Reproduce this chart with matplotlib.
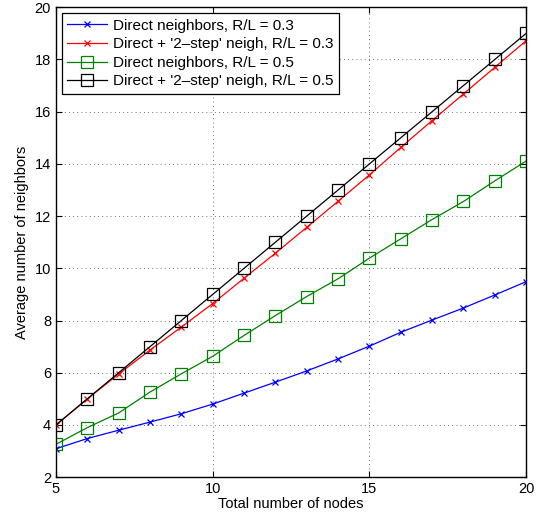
import numpy as np
import matplotlib
matplotlib.use("Agg")
import matplotlib.pyplot as plt

plt.rcParams['font.family'] = ['Liberation Sans', 'DejaVu Sans']

nodes = np.arange(5, 21)
direct_03 = [3.09, 3.48, 3.80, 4.11, 4.43, 4.80, 5.22, 5.64, 6.07, 6.53, 7.02, 7.55, 8.02, 8.48, 8.98, 9.49]
twostep_03 = [4.0, 5.0, 5.95, 6.87, 7.75, 8.65, 9.62, 10.58, 11.57, 12.57, 13.58, 14.63, 15.66, 16.68, 17.70, 18.72]
direct_05 = [3.26, 3.90, 4.46, 5.26, 5.96, 6.63, 7.43, 8.19, 8.92, 9.60, 10.39, 11.13, 11.87, 12.56, 13.35, 14.11]
twostep_05 = [4, 5, 6, 7, 8, 9, 10, 11, 12, 13, 14, 15, 16, 17, 18, 19]

labels = ["Direct neighbors, R/L = 0.3",
          "Direct + '2\u2013step' neigh, R/L = 0.3",
          "Direct neighbors, R/L = 0.5",
          "Direct + '2\u2013step' neigh, R/L = 0.5"]

fig = plt.figure(figsize=(5.38, 5.17), dpi=100)
ax = fig.add_axes([0.104, 0.077, 0.874, 0.909])

ax.plot(nodes, direct_03, color='#0000ff', marker='x', ms=5, mew=0.9, lw=0.9, label=labels[0])
ax.plot(nodes, twostep_03, color='#ff0000', marker='x', ms=5, mew=0.9, lw=0.9, label=labels[1])
ax.plot(nodes, direct_05, color='#008000', marker='s', ms=8, mfc='none', mew=0.9, lw=0.9, label=labels[2])
ax.plot(nodes, twostep_05, color='#000000', marker='s', ms=8, mfc='none', mew=0.9, lw=0.9, label=labels[3])

ax.set_xlim(5, 20)
ax.set_ylim(2, 20)
ax.set_xticks([5, 10, 15, 20])
ax.set_yticks(np.arange(2, 21, 2))
ax.grid(True, linestyle=(0, (1, 4)), color='#444444', linewidth=0.6)
ax.tick_params(direction='in', top=True, right=True, labelsize=10.5, length=4)
for s in ax.spines.values():
    s.set_linewidth(1.0)

ax.set_xlabel('Total number of nodes', fontsize=10.5, labelpad=1)
ax.set_ylabel('Average number of neighbors', fontsize=10.5, labelpad=4)

leg = ax.legend(loc='upper left', fontsize=11, fancybox=False, framealpha=1,
                edgecolor='black', borderaxespad=0.4, handlelength=2.6,
                labelspacing=0.3, borderpad=0.35, handletextpad=0.4)
leg.get_frame().set_linewidth(0.9)

fig.savefig('out.png', dpi=100)
